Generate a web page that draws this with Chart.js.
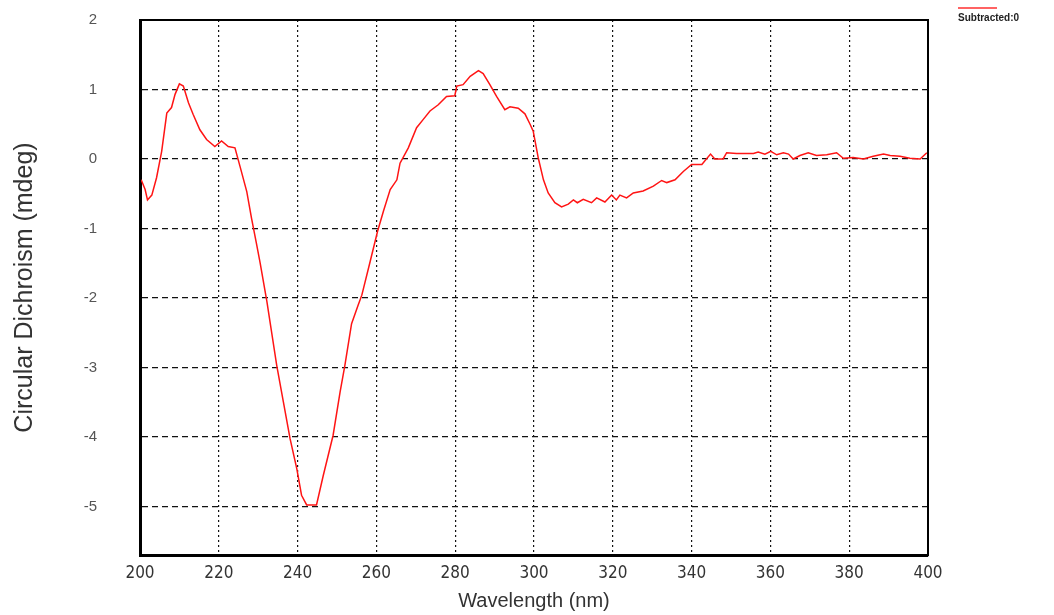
<!DOCTYPE html>
<html>
<head>
<meta charset="utf-8">
<script src="https://cdn.jsdelivr.net/npm/chart.js@4"></script>
<style>
  html, body { margin: 0; padding: 0; background: #fff; }
  #wrap { width: 1054px; height: 615px; }
</style>
</head>
<body>
<div id="wrap"><canvas id="cdChart" width="1054" height="615"></canvas></div>
<script>
// wavelength (nm) and CD signal (mdeg)
const wavelengths = [
  200.3, 201.3, 201.9, 203.0, 204.2, 205.5, 206.8, 208.0, 208.9, 210.0,
  211.0, 212.3, 213.5, 215.2, 216.9, 219.0, 220.7, 222.4, 224.1, 225.4,
  227.1, 228.3, 229.5, 230.5, 232.2, 234.7, 236.4, 238.1, 239.8, 241.0,
  242.3, 244.8, 246.5, 249.0, 250.8, 252.0, 253.7, 255.4, 256.3, 258.4,
  260.3, 261.8, 263.5, 265.2, 266.0, 268.1, 270.2, 271.9, 273.6, 275.7,
  277.8, 279.9, 280.4, 282.0, 283.8, 285.9, 287.1, 288.8, 290.5, 292.6,
  293.9, 296.0, 297.7, 299.0, 299.8, 301.1, 302.4, 303.6, 305.3, 307.0,
  308.7, 310.0, 311.0, 312.5, 314.6, 315.9, 318.0, 319.7, 320.9, 321.8,
  323.5, 325.2, 327.7, 330.3, 332.4, 333.7, 335.8, 337.9, 340.0, 342.6,
  344.8, 345.9, 348.0, 348.9, 351.4, 355.7, 356.9, 358.6, 360.1, 361.6,
  363.3, 364.6, 365.8, 367.5, 369.6, 371.7, 374.3, 376.8, 378.5, 381.0,
  383.6, 386.1, 388.7, 390.4, 392.9, 395.4, 398.0, 399.7
];
const cdValues = [
  -0.30, -0.44, -0.59, -0.52, -0.27, 0.11, 0.66, 0.74, 0.93, 1.08,
  1.05, 0.81, 0.64, 0.42, 0.28, 0.18, 0.26, 0.18, 0.16, -0.11,
  -0.47, -0.85, -1.20, -1.50, -2.05, -2.97, -3.50, -4.03, -4.46, -4.84,
  -4.98, -4.98, -4.56, -3.98, -3.35, -2.97, -2.37, -2.10, -1.96, -1.48,
  -1.04, -0.75, -0.44, -0.30, -0.06, 0.16, 0.45, 0.57, 0.69, 0.78,
  0.90, 0.91, 1.05, 1.07, 1.19, 1.27, 1.23, 1.07, 0.90, 0.71,
  0.75, 0.73, 0.65, 0.50, 0.40, 0.01, -0.30, -0.49, -0.63, -0.69,
  -0.65, -0.59, -0.63, -0.58, -0.63, -0.56, -0.62, -0.52, -0.59, -0.52,
  -0.56, -0.49, -0.46, -0.39, -0.31, -0.34, -0.30, -0.18, -0.08, -0.08,
  0.07, 0.00, 0.00, 0.09, 0.08, 0.08, 0.10, 0.07, 0.11, 0.06,
  0.09, 0.07, 0.00, 0.05, 0.09, 0.05, 0.06, 0.09, 0.01, 0.02,
  0.00, 0.04, 0.07, 0.05, 0.04, 0.01, 0.00, 0.09
];
const seriesName = "Subtracted:0";
const xTitle = "Wavelength (nm)";
const yTitle = "Circular Dichroism (mdeg)";

const points = wavelengths.map((w, i) => ({ x: w, y: cdValues[i] }));

// box round the plot plus the little legend in the top right corner
const framePlugin = {
  id: "frame",
  afterDraw(chart) {
    const { ctx, chartArea: a } = chart;
    ctx.save();
    ctx.strokeStyle = "#000";
    ctx.lineWidth = 2;
    ctx.strokeRect(a.left, a.top, a.right - a.left, a.bottom - a.top);

    const ds = chart.data.datasets[0];
    ctx.strokeStyle = "rgba(255,60,60,0.8)";
    ctx.lineWidth = 2;
    ctx.beginPath();
    ctx.moveTo(958, 8);
    ctx.lineTo(997, 8);
    ctx.stroke();
    ctx.fillStyle = "#222";
    ctx.font = "bold 10px 'Liberation Sans', Arial, sans-serif";
    ctx.textBaseline = "middle";
    ctx.fillText(ds.label, 958, 18);
    ctx.restore();
  }
};

new Chart(document.getElementById("cdChart"), {
  type: "line",
  data: {
    datasets: [{
      label: seriesName,
      data: points,
      borderColor: "rgb(255, 20, 20)",
      borderWidth: 1.5,
      pointRadius: 0,
      tension: 0,
      fill: false
    }]
  },
  options: {
    responsive: false,
    animation: false,
    layout: { padding: { left: 0, right: 126, top: 20, bottom: 0 } },
    plugins: {
      legend: { display: false },
      tooltip: { enabled: false }
    },
    scales: {
      x: {
        type: "linear",
        min: 200,
        max: 400,
        afterFit: (s) => { s.height = 60; },
        ticks: {
          stepSize: 20,
          padding: 8,
          color: "#333",
          font: { family: "'Liberation Sans Narrow', 'DejaVu Sans Condensed', Arial, sans-serif", size: 17 },
          maxRotation: 0
        },
        grid: { color: "#111", lineWidth: 1.2, drawTicks: false },
        border: { display: true, color: "#000", width: 3, dash: [2, 3] },
        title: {
          display: true,
          text: xTitle,
          color: "#333",
          font: { family: "'Liberation Sans', Arial, sans-serif", size: 20 },
          padding: { top: 0, bottom: 2 }
        }
      },
      y: {
        min: -5.7,
        max: 2,
        afterFit: (s) => { s.width = 140; },
        ticks: {
          stepSize: 1,
          includeBounds: false,
          padding: 3,
          color: "#555",
          font: { family: "'Liberation Sans', Arial, sans-serif", size: 15 }
        },
        // invisible tick marks just push the labels away from the box
        grid: { color: "#111", lineWidth: 1.2, drawTicks: true, tickLength: 40, tickColor: "rgba(0,0,0,0)" },
        border: { display: true, color: "#000", width: 3, dash: [6, 4] },
        title: {
          display: true,
          text: yTitle,
          color: "#333",
          font: { family: "'Liberation Sans', Arial, sans-serif", size: 25 },
          padding: { top: 10, bottom: 0 }
        }
      }
    }
  },
  plugins: [framePlugin]
});
</script>
</body>
</html>
